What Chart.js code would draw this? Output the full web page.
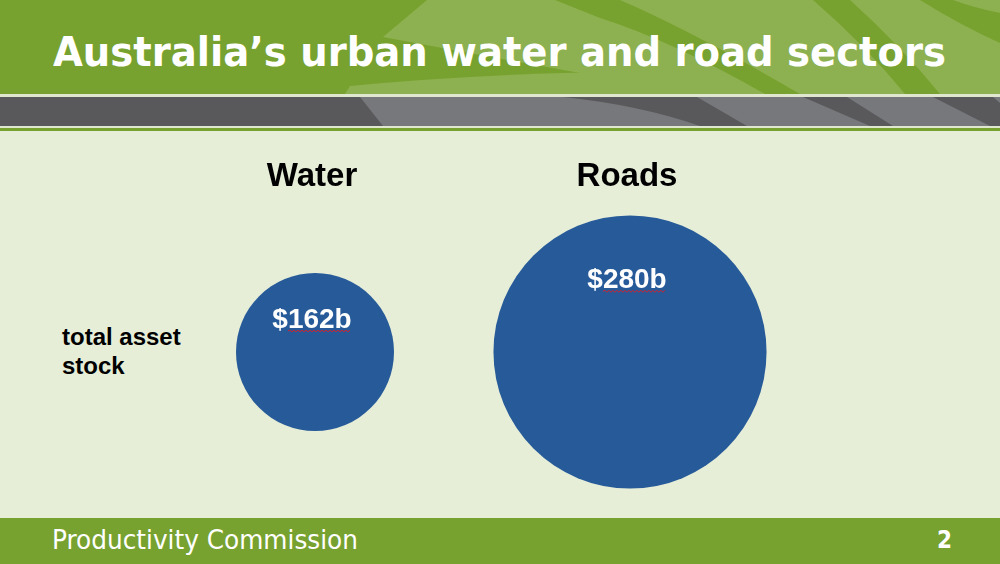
<!DOCTYPE html>
<html>
<head>
<meta charset="utf-8">
<script src="https://cdn.jsdelivr.net/npm/chart.js@4.4.1/dist/chart.umd.min.js"></script>
<style>
  html, body { margin: 0; padding: 0; }
  body { width: 1000px; height: 564px; position: relative; overflow: hidden; background: #e6eed8; font-family: "Liberation Sans", Arial, sans-serif; }
  #deco { position: absolute; left: 0; top: 0; }
  .title { position: absolute; left: 53px; top: 29px; color: #fff; font: bold 40px "DejaVu Sans Condensed", "DejaVu Sans", sans-serif; white-space: nowrap; transform-origin: 0 0; }
  .footer { position: absolute; left: 0; top: 518px; width: 1000px; height: 46px; background: #78a22f; }
  .footer .org { position: absolute; left: 52px; top: 7px; color: #fff; font: 26px "DejaVu Sans Condensed", "DejaVu Sans", sans-serif; white-space: nowrap; transform-origin: 0 0; }
  .footer .page { position: absolute; left: 937px; top: 8px; color: #fff; font: bold 24px "DejaVu Sans Condensed", "DejaVu Sans", sans-serif; }
  .rowlabel { position: absolute; left: 62px; top: 322px; color: #000; font: bold 24px "Liberation Sans", Arial, sans-serif; line-height: 29px; width: 160px; }
  #wrap { position: absolute; left: 0; top: 0; width: 1000px; height: 564px; }
</style>
</head>
<body>
<svg id="deco" width="1000" height="564">
  <!-- header band -->
  <rect x="0" y="0" width="1000" height="94" fill="#78a22f"/>
  <path fill="#8db150" d="M427 0 L1000 0 L1000 94 L700 94 Q560 70 383 37 Z"/>
  <path fill="#8db150" d="M350 86 Q520 70 700 72 Q850 74 1000 80 L1000 94 L345 94 Z"/>
  <path fill="#78a22f" d="M555 0 L620 0 Q690 30 800 94 L765 94 Q670 40 600 18 Q575 8 555 0 Z"/>
  <path fill="#78a22f" d="M813 0 L850 0 Q900 45 940 94 L905 94 Q865 45 813 0 Z"/>
  <path fill="#78a22f" d="M920 0 L953 0 Q975 8 1000 13 L1000 43 Q960 25 920 0 Z"/>
  <rect x="0" y="94" width="1000" height="3" fill="#dfe7cf"/>
  <!-- grey band -->
  <rect x="0" y="97" width="1000" height="29" fill="#59595b"/>
  <path fill="#77787c" d="M360 97 L1000 97 L1000 126 L383 126 Z"/>
  <path fill="#59595b" d="M563 97 L697 97 L747 126 L700 126 Q640 105 563 97 Z"/>
  <path fill="#59595b" d="M803 97 L847 97 L893 126 L870 126 Z"/>
  <path fill="#59595b" d="M933 97 L993 97 L1000 103 L1000 126 L990 126 Z"/>
  <rect x="0" y="126" width="1000" height="2" fill="#dfe7cf"/>
  <rect x="0" y="128" width="1000" height="3" fill="#78a22f"/>
</svg>
<div class="title" id="title">Australia’s urban water and road sectors</div>
<div class="rowlabel" id="rowlabel"></div>
<div class="footer">
  <span class="org" id="org">Productivity Commission</span>
  <span class="page">2</span>
</div>
<div id="wrap"><canvas id="bubbles"></canvas></div>
<script>
// data
const categories = ["Water", "Roads"];
const assetStock = [162, 280]; // $ billion
const valueLabels = ["$162b", "$280b"];
const rowLabel = "total asset stock";

// fit header / footer text to the slide widths
function fitWidth(el, w) {
    const natural = el.getBoundingClientRect().width;
    el.style.transform = "scaleX(" + (w / natural) + ")";
}
fitWidth(document.getElementById("title"), 893);
fitWidth(document.getElementById("org"), 306);
document.getElementById("rowlabel").textContent = rowLabel;

const pxPerBillion = 79 / 162;

// Draw category names above and value labels inside each bubble
const bubbleLabels = {
    id: "bubbleLabels",
    afterDatasetsDraw(chart) {
        const ctx = chart.ctx;
        const meta = chart.getDatasetMeta(0);
        ctx.save();
        ctx.textAlign = "center";
        ctx.textBaseline = "alphabetic";
        meta.data.forEach((pt, i) => {
            const r = pt.options.radius;
            ctx.fillStyle = "#000";
            ctx.font = "bold 33px 'Liberation Sans', Arial, sans-serif";
            ctx.fillText(categories[i], pt.x - 3, chart.chartArea.top + 46);

            const base = pt.y - (0.69 * r - 30.5);
            const lx = pt.x - 3;
            ctx.fillStyle = "#fff";
            ctx.font = "bold 28px 'Liberation Sans', Arial, sans-serif";
            ctx.fillText(valueLabels[i], lx, base);

            // red spell-check squiggle under the number part
            const full = ctx.measureText(valueLabels[i]).width;
            const dollar = ctx.measureText("$").width;
            let x0 = lx - full / 2 + dollar, x1 = lx + full / 2;
            ctx.strokeStyle = "#d8232a";
            ctx.lineWidth = 1;
            ctx.beginPath();
            let up = true;
            ctx.moveTo(x0, base + 3);
            for (let x = x0 + 2; x <= x1; x += 2) {
                ctx.lineTo(x, base + (up ? 2 : 4));
                up = !up;
            }
            ctx.stroke();
        });
        ctx.restore();
    }
};

new Chart(document.getElementById("bubbles"), {
    type: "bubble",
    data: {
        datasets: [{
            data: assetStock.map((v, i) => ({ x: i + 1, y: 0, r: v * pxPerBillion })),
            backgroundColor: "#275a99",
            borderWidth: 0,
            hoverBorderWidth: 0
        }]
    },
    options: {
        responsive: true,
        maintainAspectRatio: false,
        animation: false,
        events: [],
        layout: { autoPadding: false, padding: { top: 140, bottom: 0, left: 0, right: 0 } },
        scales: {
            x: { type: "linear", min: 0, max: 1000 / 315, display: false },
            y: { type: "linear", min: -1, max: 1, display: false }
        },
        plugins: { legend: { display: false }, tooltip: { enabled: false } }
    },
    plugins: [bubbleLabels]
});
</script>
</body>
</html>
